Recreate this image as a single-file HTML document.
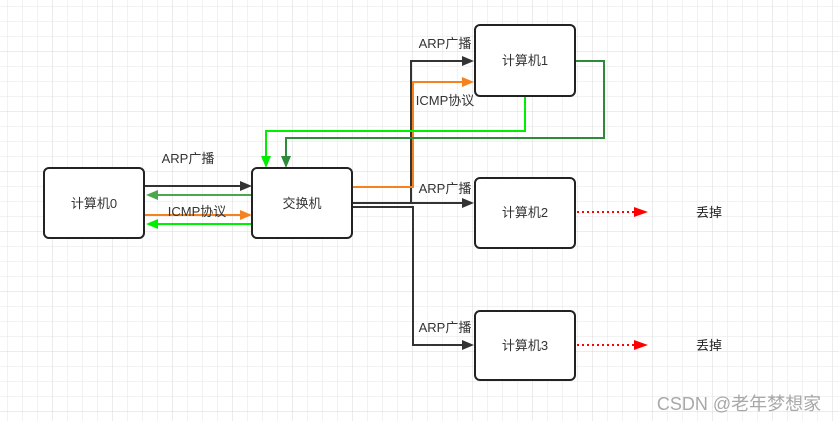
<!DOCTYPE html>
<html><head><meta charset="utf-8"><style>
html,body{margin:0;padding:0;}
body{width:839px;height:421px;overflow:hidden;background:#fff;font-family:"Liberation Sans","Noto Sans CJK SC",sans-serif;}
</style></head><body>
<svg width="839" height="421" xmlns="http://www.w3.org/2000/svg" style="position:absolute;left:0;top:0">
<defs>
<pattern id="g" x="7" y="6" width="15" height="15" patternUnits="userSpaceOnUse"><path d="M0 0H15M0 0V15" stroke="#e6e6e6" stroke-width="1" fill="none"/></pattern>
<pattern id="G" x="52" y="51" width="60" height="60" patternUnits="userSpaceOnUse"><path d="M0 0H60M0 0V60" stroke="#d8d8d8" stroke-width="1" fill="none"/></pattern>
</defs>
<rect width="839" height="421" fill="url(#g)"/>
<rect width="839" height="421" fill="url(#G)"/>
<g fill="none" stroke-width="2">
<path d="M144 186H240" stroke="#333"/><path d="M240 181L252 186L240 191Z" fill="#333" stroke="none"/>
<path d="M252 195H158" stroke="#4aa84a"/><path d="M158 190L146 195L158 200Z" fill="#4aa84a" stroke="none"/>
<path d="M144 215H240" stroke="#f5821f"/><path d="M240 210L252 215L240 220Z" fill="#f5821f" stroke="none"/>
<path d="M252 224H158" stroke="#00ee00"/><path d="M158 219L146 224L158 229Z" fill="#00ee00" stroke="none"/>
<path d="M352 203H411V61H462" stroke="#333"/><path d="M462 56L474 61L462 66Z" fill="#333" stroke="none"/>
<path d="M352 187H413V82H462" stroke="#f5821f"/><path d="M462 77L474 82L462 87Z" fill="#f5821f" stroke="none"/>
<path d="M352 203H462" stroke="#333"/><path d="M462 198L474 203L462 208Z" fill="#333" stroke="none"/>
<path d="M352 207H413V345H462" stroke="#333"/><path d="M462 340L474 345L462 350Z" fill="#333" stroke="none"/>
<path d="M525 96V131H266V156" stroke="#00ee00"/><path d="M261 156L266 168L271 156Z" fill="#00ee00" stroke="none"/>
<path d="M575 61H604V138H286V156" stroke="#2e8b3a"/><path d="M281 156L286 168L291 156Z" fill="#2e8b3a" stroke="none"/>
<path d="M577 212H636" stroke="#f00" stroke-dasharray="2 3"/><path d="M634 207L648 212L634 217Z" fill="#f00" stroke="none"/>
<path d="M577 345H636" stroke="#f00" stroke-dasharray="2 3"/><path d="M634 340L648 345L634 350Z" fill="#f00" stroke="none"/>
</g>
<g fill="#fff" stroke="#222" stroke-width="2">
<rect x="44" y="168" width="100" height="70" rx="5"/>
<rect x="252" y="168" width="100" height="70" rx="5"/>
<rect x="475" y="25" width="100" height="71" rx="5"/>
<rect x="475" y="178" width="100" height="70" rx="5"/>
<rect x="475" y="311" width="100" height="69" rx="5"/>
</g>
<g font-size="13" fill="#333" text-anchor="middle" font-family="Liberation Sans,Noto Sans CJK SC,sans-serif">
<text x="94" y="208">计算机0</text>
<text x="302" y="208">交换机</text>
<text x="525" y="65">计算机1</text>
<text x="525" y="217">计算机2</text>
<text x="525" y="350">计算机3</text>
<text x="188" y="163">ARP广播</text>
<text x="197" y="216">ICMP协议</text>
<text x="445" y="48">ARP广播</text>
<text x="445" y="105">ICMP协议</text>
<text x="445" y="193">ARP广播</text>
<text x="445" y="332">ARP广播</text>
<text x="709" y="217" fill="#222">丢掉</text>
<text x="709" y="350" fill="#222">丢掉</text>
</g>
<text x="739" y="410" font-size="18" fill="#a8a8a8" text-anchor="middle" font-family="Liberation Sans,Noto Sans CJK SC,sans-serif">CSDN @老年梦想家</text>
</svg>
</body></html>
